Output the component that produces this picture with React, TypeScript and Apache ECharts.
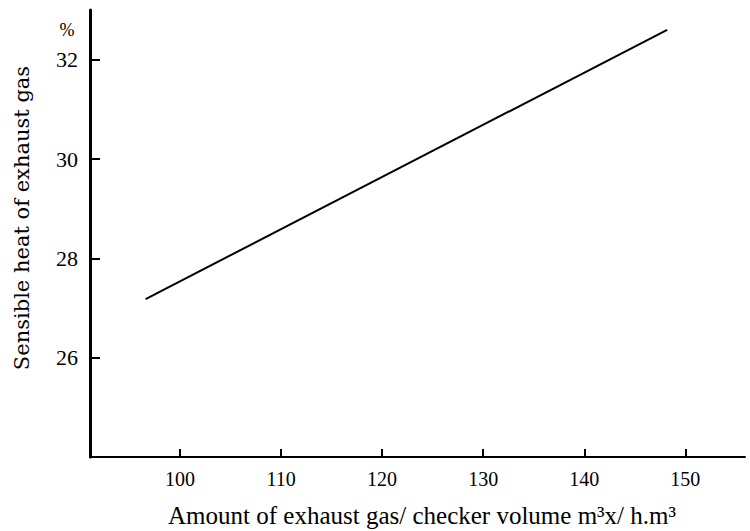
import React, { useEffect, useRef } from "react";
import * as echarts from "echarts";

const xTicks = [100, 110, 120, 130, 140, 150];
const yTicks = [26, 28, 30, 32];
const lineX = [96.6, 148.2];
const lineY = [27.18, 32.6];

const X_MIN = 91.1;
const X_MAX = 155.9;
const Y_MIN = 24;
const Y_MAX = 33;

export default function App() {
  const ref = useRef<HTMLDivElement>(null);
  useEffect(() => {
    if (!ref.current) return;
    const chart = echarts.init(ref.current, null, { renderer: "svg" });
    const serif = "Liberation Serif";
    chart.setOption({
      animation: false,
      backgroundColor: "#ffffff",
      grid: { left: 90, right: 5, top: 10, bottom: 74, containLabel: false },
      xAxis: {
        type: "value",
        min: X_MIN,
        max: X_MAX,
        axisLine: { show: true, lineStyle: { color: "#000", width: 2 } },
        axisTick: { show: true, inside: true, length: 8, customValues: xTicks, lineStyle: { color: "#000", width: 2 } },
        axisLabel: { customValues: xTicks, color: "#000", fontFamily: serif, fontSize: 20, margin: 12 },
        splitLine: { show: false },
      },
      yAxis: {
        type: "value",
        min: Y_MIN,
        max: Y_MAX,
        axisLine: { show: true, lineStyle: { color: "#000", width: 3 } },
        axisTick: { show: true, inside: true, length: 10, customValues: yTicks, lineStyle: { color: "#000", width: 2 } },
        axisLabel: { customValues: yTicks, color: "#000", fontFamily: serif, fontSize: 22, margin: 12 },
        splitLine: { show: false },
      },
      graphic: [
        {
          type: "text",
          x: 22,
          y: 218,
          rotation: Math.PI / 2,
          style: {
            text: "Sensible heat of exhaust gas",
            fill: "#000",
            fontFamily: "DejaVu Serif",
            fontSize: 21,
            align: "center",
            verticalAlign: "middle",
          },
        },
        {
          type: "text",
          x: 422,
          y: 515,
          style: {
            text: "Amount of exhaust gas/ checker volume m³x/ h.m³",
            fill: "#000",
            fontFamily: "Liberation Serif",
            fontSize: 25,
            align: "center",
            verticalAlign: "middle",
          },
        },
        {
          type: "text",
          x: 67,
          y: 30,
          style: {
            text: "%",
            fill: "#000",
            fontFamily: "Liberation Serif",
            fontSize: 18,
            align: "center",
            verticalAlign: "middle",
          },
        },
      ],
      series: [
        {
          type: "line",
          data: lineX.map((x, i) => [x, lineY[i]]),
          showSymbol: false,
          lineStyle: { color: "#000", width: 2 },
        },
      ],
    });
    return () => chart.dispose();
  }, []);
  return <div ref={ref} style={{ position: "absolute", left: 0, top: 0, width: 750, height: 531 }} />;
}
